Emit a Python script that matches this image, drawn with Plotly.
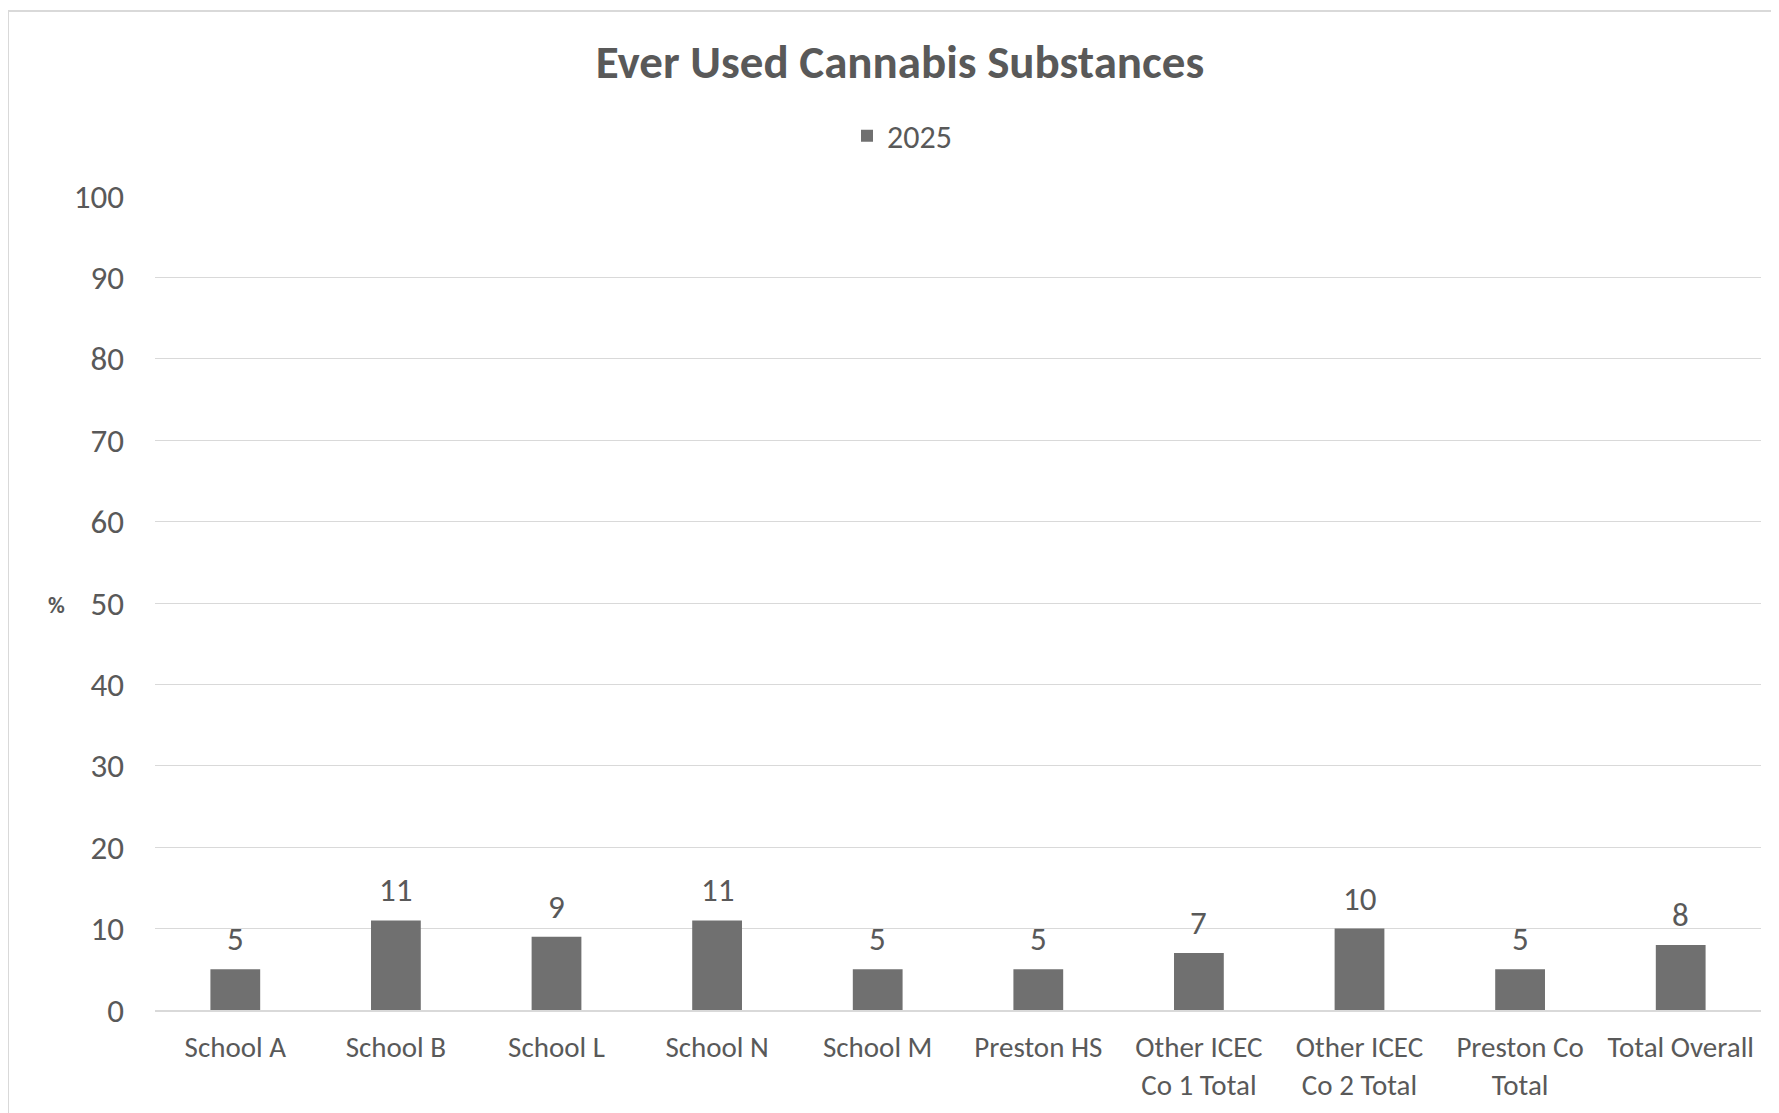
import plotly.graph_objects as go

categories = ["School A", "School B", "School L", "School N", "School M", "Preston HS",
              "Other ICEC<br>Co 1 Total", "Other ICEC<br>Co 2 Total", "Preston Co<br>Total", "Total Overall"]
values_2025 = [5, 11, 9, 11, 5, 5, 7, 10, 5, 8]
series_name = "2025"
title_text = "Ever Used Cannabis Substances"
y_ticks = [0, 10, 20, 30, 40, 50, 60, 70, 80, 90, 100]

# page has an 8px body margin; coordinates below are in figure space
W, H = 1779, 1113
L, R, T, B = 147, 26, 188, 111
FONT = "Carlito, Calibri, Lato, sans-serif"
TXT = "#595959"
GRID = "#D9D9D9"
BAR = "#707070"

pw = W - L - R
ph = H - T - B

fig = go.Figure()
fig.add_trace(go.Bar(
    x=categories, y=values_2025, name=series_name,
    marker=dict(color=BAR, line=dict(width=0)),
))

for c, v in zip(categories, values_2025):
    fig.add_annotation(x=c, y=v, xref="x", yref="y", text=str(v), showarrow=False,
                       yanchor="bottom", yshift=8,
                       font=dict(family=FONT, size=33, color=TXT))

fig.update_layout(
    width=W, height=H,
    margin=dict(l=L, r=R, t=T, b=B, autoexpand=False),
    paper_bgcolor="white", plot_bgcolor="white",
    font=dict(family=FONT, color=TXT),
    bargap=0.69,
    title=dict(text="<b>" + title_text + "</b>", x=892 / W, xanchor="center",
               y=1 - 54 / H, yanchor="middle", yref="container",
               font=dict(family=FONT, size=47, color=TXT)),
    showlegend=True,
    legend=dict(orientation="h", x=(839 - L) / pw, xanchor="left",
                y=(H - B - 128) / ph, yanchor="middle",
                font=dict(family=FONT, size=32, color=TXT),
                itemwidth=30, bgcolor="rgba(0,0,0,0)"),
    xaxis=dict(showgrid=False, showline=True, linecolor=GRID, linewidth=2,
               ticks="", ticklabelstandoff=10,
               tickfont=dict(family=FONT, size=29, color=TXT)),
    yaxis=dict(range=[0, 100], tickvals=y_ticks, showgrid=True, gridcolor=GRID,
               gridwidth=1, zeroline=False, showline=False, ticks="",
               ticklabelstandoff=30,
               tickfont=dict(family=FONT, size=33, color=TXT)),
)

fig.add_annotation(text="<b>%</b>", xref="paper", yref="paper",
                   x=(48 - L) / pw, y=(H - B - 597) / ph, showarrow=False,
                   xanchor="center", yanchor="middle",
                   font=dict(family=FONT, size=23, color=TXT))

# chart area border (left and top)
x0 = (0 - L) / pw
y1 = (H - B - 3) / ph
fig.add_shape(type="line", xref="paper", yref="paper", x0=x0, x1=x0, y0=-B / ph, y1=y1,
              line=dict(color=GRID, width=2))
fig.add_shape(type="line", xref="paper", yref="paper", x0=x0, x1=(W - L) / pw, y0=y1, y1=y1,
              line=dict(color=GRID, width=2))

fig.write_html("out.html")
